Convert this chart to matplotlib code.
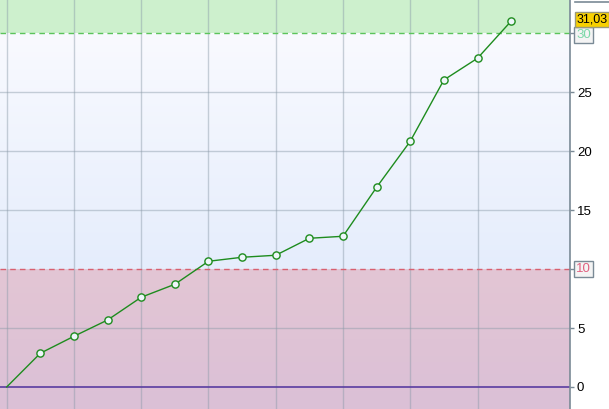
import matplotlib
matplotlib.use("Agg")
import matplotlib.pyplot as plt
import numpy as np
from matplotlib.lines import Line2D

values = [0.0, 2.86, 4.30, 5.68, 7.61, 8.71, 10.66, 11.00, 11.17,
          12.61, 12.78, 16.94, 20.84, 26.04, 27.88, 31.03]
upper_level = 30
lower_level = 10
last_label = "31,03"
tick_values = [0, 5, 10, 15, 20, 25, 30]

plt.rcParams["font.family"] = ["Liberation Sans", "DejaVu Sans"]

x = np.arange(len(values))
x_min, x_max = -0.2, 16.75
y_min, y_max = -1.87, 32.82

fig = plt.figure(figsize=(6.09, 4.09), dpi=100)
ax = fig.add_axes([0, 0, 570 / 609, 1])
ax.set_xlim(x_min, x_max)
ax.set_ylim(y_min, y_max)

# background bands
ax.axhspan(upper_level, y_max, color="#cdf0cd", zorder=0)
grad = np.linspace(0, 1, 256).reshape(-1, 1)
mid_cmap = matplotlib.colors.LinearSegmentedColormap.from_list("mid", ["#e5edfc", "#f9faff"])
ax.imshow(grad, extent=[x_min, x_max, lower_level, upper_level], origin="lower",
          cmap=mid_cmap, aspect="auto", zorder=0)
low_cmap = matplotlib.colors.LinearSegmentedColormap.from_list("low", ["#dbc0d7", "#e3c6d4"])
ax.imshow(grad, extent=[x_min, x_max, y_min, lower_level], origin="lower",
          cmap=low_cmap, aspect="auto", zorder=0)

# grid
for gx in x[::2]:
    ax.axvline(gx, color="#8a9aa8", lw=1, alpha=0.45, zorder=1)
for gy in [5, 15, 20, 25]:
    ax.axhline(gy, color="#8a9aa8", lw=1, alpha=0.45, zorder=1)

ax.axhline(upper_level, color="#5cc45c", lw=1, ls=(0, (4, 3)), zorder=2)
ax.axhline(lower_level, color="#d86070", lw=1, ls=(0, (4, 3)), zorder=2)
ax.axhline(0, color="#5a3ca0", lw=1.2, zorder=2)

ax.plot(x, values, color="#1e8c1e", lw=1, marker="o", markersize=5.2,
        markevery=list(range(1, len(values))),
        markerfacecolor="#eef6fa", markeredgecolor="#1e8c1e", markeredgewidth=1, zorder=3)

for s in ["left", "top", "bottom"]:
    ax.spines[s].set_visible(False)
ax.spines["right"].set_color("#7a8a96")
ax.spines["right"].set_linewidth(1.2)
ax.set_xticks([])
ax.yaxis.tick_right()
ax.set_yticks(tick_values)
ax.set_yticklabels([str(v) if v not in (lower_level, upper_level) else "" for v in tick_values])
ax.tick_params(axis="y", length=3, width=1, color="#7a8a96", pad=2, labelsize=9.5,
               labelcolor="black")

box = dict(boxstyle="square,pad=0.15", fc="#f4f4f4", ec="#7a8a96", lw=1)
ax.text(1.011, (upper_level - y_min) / (y_max - y_min) - 0.004, str(upper_level),
        transform=ax.transAxes, va="center", ha="left", fontsize=9.5, color="#7cd8a8", bbox=box)
ax.text(1.011, (lower_level - y_min) / (y_max - y_min), str(lower_level),
        transform=ax.transAxes, va="center", ha="left", fontsize=9.5, color="#e06080", bbox=box)
ax.text(1.011, (values[-1] - y_min) / (y_max - y_min) + 0.005, last_label,
        transform=ax.transAxes, va="center", ha="left", fontsize=9, color="black",
        bbox=dict(boxstyle="square,pad=0.12", fc="#f8d000", ec="#9a9a7a", lw=1), zorder=5)

fig.add_artist(Line2D([575 / 609, 1], [407.5 / 409, 407.5 / 409], color="#7a8a96", lw=1.2))

fig.savefig("out.png", dpi=100)
